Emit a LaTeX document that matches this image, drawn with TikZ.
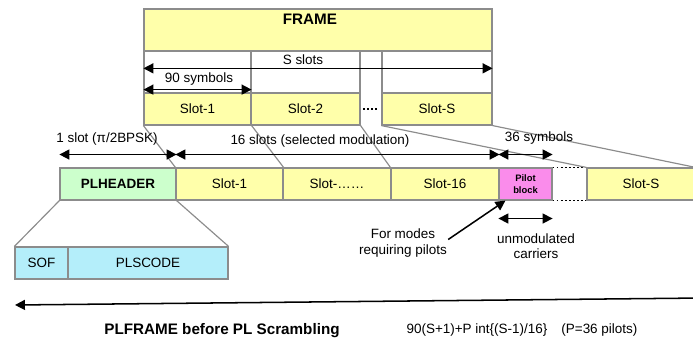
\documentclass[tikz,border=0pt]{standalone}
\usepackage{fontspec}
\setmainfont{Liberation Sans}
\usetikzlibrary{arrows.meta}

\definecolor{slotfill}{HTML}{FFFFAA}
\definecolor{headfill}{HTML}{CCFFCC}
\definecolor{pilotfill}{HTML}{FA8CEB}
\definecolor{codefill}{HTML}{B4EEFA}
\definecolor{cellgray}{HTML}{8C8C8C}

\tikzset{
	cell/.style={draw=cellgray, line width=1pt, inner sep=0pt,
		minimum height=0.96cm, font=\fontsize{11.5}{13}\selectfont},
	slotcell/.style={cell, fill=slotfill},
	lbl/.style={inner sep=1pt, font=\fontsize{11.5}{13}\selectfont},
	title/.style={inner sep=1pt, font=\fontsize{13}{15}\selectfont\bfseries},
	dim/.style={line width=1.3pt, {Triangle[length=8.5pt,width=8.5pt]}-{Triangle[length=8.5pt,width=8.5pt]}},
	link/.style={draw=cellgray, line width=1pt}
}

\begin{document}
\begin{tikzpicture}[x=0.03cm,y=-0.03cm]

	\useasboundingbox (0,0) rectangle (693,343);
	\clip (0,0) rectangle (693,343);

	% frame with its S slots
	\node[cell, fill=slotfill, minimum width=10.44cm, minimum height=1.26cm]
		(frame) at (318,30) {};
	\node[title] (frametxt) at (310,19) {FRAME};

	\node[cell, minimum width=3.21cm, minimum height=1.26cm] (hd1) at (197.5,72) {};
	\node[cell, minimum width=3.27cm, minimum height=1.26cm] (hd2) at (305.5,72) {};
	\node[cell, minimum width=3.3cm, minimum height=1.26cm] (hdS) at (437,72) {};

	\node[slotcell, minimum width=3.21cm] (s1) at (197.5,109) {Slot-1};
	\node[slotcell, minimum width=3.27cm] (s2) at (305.5,109) {Slot-2};
	\node[slotcell, minimum width=3.3cm] (sS) at (437,109) {Slot-S};
	\draw[line width=1.5pt, dotted, shorten <=2pt, shorten >=2pt, yshift=-1.5pt]
		(s2.east) -- (sS.west);

	\draw[dim] ([yshift=-15.3pt]hd1.north west) -- ([yshift=-15.3pt]hdS.north east);
	\node[lbl] (sslots) at (303,60) {S slots};
	\draw[dim] ([yshift=3.4pt]hd1.south west) -- ([yshift=3.4pt]hd1.south east);
	\node[lbl] (ninety) at (199,79) {90 symbols};

	% PL frame
	\node[cell, fill=headfill, minimum width=3.48cm] (plh) at (118,184)
		{\bfseries PLHEADER};
	\node[slotcell, minimum width=3.21cm] (l1) at (229.5,184) {Slot-1};
	\node[slotcell, minimum width=3.24cm] (l2) at (337,184) {Slot-\dots\dots};
	\node[slotcell, minimum width=3.24cm] (l16) at (445,184) {Slot-16};
	\node[cell, fill=pilotfill, minimum width=1.59cm, align=center,
		font=\fontsize{8}{10}\selectfont\bfseries] (pil) at (525.5,184)
		{Pilot\\block};
	\node[slotcell, minimum width=3.24cm] (lS) at (641,184) {Slot-S};
	\draw[line width=1.5pt, dotted] (pil.north east) -- (lS.north west);
	\draw[line width=1.5pt, dotted] (pil.south east) -- (lS.south west);

	\node[cell, fill=codefill, minimum width=1.59cm] (sof) at (41.5,263) {SOF};
	\node[cell, fill=codefill, minimum width=4.8cm] (code) at (148,263) {PLSCODE};

	% mapping lines
	\draw[link] (s1.south west) -- (l1.north west);
	\draw[link] (s1.south east) -- (l1.north east);
	\draw[link] (s2.south east) -- (l16.north west);
	\draw[link] (sS.south west) -- (lS.north west);
	\draw[link] (sS.south east) -- (lS.north east);
	\draw[link] (plh.south west) -- (sof.north west);
	\draw[link] (plh.south east) -- (code.north east);

	% dimensions
	\draw[dim] ([yshift=11pt]plh.north west) -- ([yshift=11pt]plh.north east);
	\node[lbl] (oneslot) at (107,139) {1 slot (π/2BPSK)};
	\draw[dim] ([yshift=11pt]l1.north west) -- ([yshift=11pt]l16.north east);
	\node[lbl] (sixteen) at (320,141) {16 slots (selected modulation)};
	\draw[dim] ([yshift=11pt]pil.north west) -- ([yshift=11pt]pil.north east);
	\node[lbl] (thirtysix) at (539,138) {36 symbols};

	\draw[dim] ([yshift=-15.3pt]pil.south west) -- ([yshift=-15.3pt]pil.south east);
	\node[lbl, align=center] (unmod) at (536,246) {unmodulated\\carriers};

	\node[lbl, align=center] (modes) at (403,243) {For modes\\requiring pilots};
	\draw[line width=1.3pt, -{Triangle[length=8.5pt,width=8.5pt]}]
		([yshift=3pt]modes.east) -- ([xshift=6pt]pil.south west);

	% whole frame length
	\coordinate (plfl) at (15,305);
	\coordinate (plfr) at (704,298);
	\draw[dim] (plfl) -- (plfr);
	\node[title] (plframe) at (222,331) {PLFRAME before PL Scrambling};
	\node[lbl] (plsize) at (522,330)
		{90(S+1)+P int\{(S-1)/16\}\hspace{12pt}(P=36 pilots)};

\end{tikzpicture}
\end{document}
